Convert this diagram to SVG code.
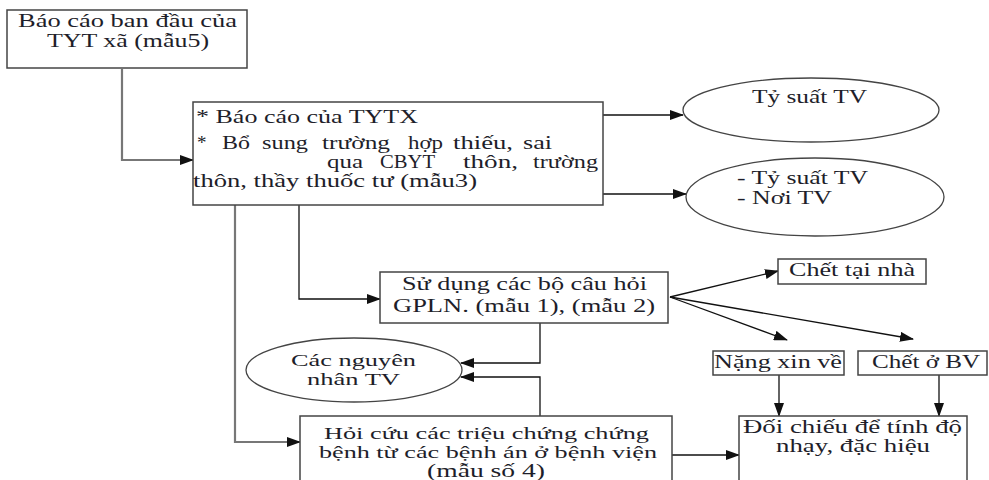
<svg xmlns="http://www.w3.org/2000/svg" width="989" height="480" viewBox="0 0 989 480">
<style>
.box{fill:#fff;stroke:#444;stroke-width:1.5}
.ell{fill:#fff;stroke:#444;stroke-width:1.3}
text{font-family:"Liberation Serif","Times New Roman",serif;font-size:19px;fill:#1e1e2a}
.t{font-size:17px}
.c{stroke:#111;stroke-width:1.3;fill:none}
.g{stroke:#777;stroke-width:2.2;fill:none}
</style>
<defs>
<marker id="a" markerUnits="userSpaceOnUse" markerWidth="14" markerHeight="10" refX="13" refY="5" orient="auto">
<path d="M0,0 L14,5 L0,10 Z" fill="#111"/>
</marker>
</defs>
<g id="connectors">
<path class="g" d="M122,69 V160 H180"/>
<path class="c" d="M182,160 H193" marker-end="url(#a)"/>
<path class="c" d="M603,115 H683" marker-end="url(#a)"/>
<path class="c" d="M603,194 H686" marker-end="url(#a)"/>
<path class="c" d="M299,205 V299 H380" marker-end="url(#a)"/>
<path class="g" d="M235,205 V442 H290"/>
<path class="c" d="M288,442 H300" marker-end="url(#a)"/>
<path class="c" d="M540,323 V363 H461" marker-end="url(#a)"/>
<path class="c" d="M540,416 V377 H461" marker-end="url(#a)"/>
<path class="c" d="M670,297 L778,271" marker-end="url(#a)"/>
<path class="c" d="M670,297 L787,340" marker-end="url(#a)"/>
<path class="c" d="M670,297 L913,339" marker-end="url(#a)"/>
<path class="c" d="M779,375 V416" marker-end="url(#a)"/>
<path class="c" d="M939,375 V416" marker-end="url(#a)"/>
<path class="c" d="M672,455 H739" marker-end="url(#a)"/>
</g>
<g id="n1">
<rect class="box" x="7" y="10" width="240" height="58"/>
<text x="18" y="27" textLength="219" lengthAdjust="spacingAndGlyphs">Báo cáo ban đầu của</text>
<text x="47" y="47" textLength="162" lengthAdjust="spacingAndGlyphs">TYT xã (mẫu5)</text>
</g>
<g id="n2">
<rect class="box" x="193" y="102" width="410" height="103"/>
<text x="196" y="123" textLength="222" lengthAdjust="spacingAndGlyphs">* Báo cáo của TYTX</text>
<text x="197" y="149">*</text>
<text x="222" y="149" textLength="28" lengthAdjust="spacingAndGlyphs">Bổ</text>
<text x="262" y="149" textLength="46" lengthAdjust="spacingAndGlyphs">sung</text>
<text x="322" y="149" textLength="68" lengthAdjust="spacingAndGlyphs">trường</text>
<text x="408" y="149" textLength="35" lengthAdjust="spacingAndGlyphs">hợp</text>
<text x="453" y="149" textLength="60" lengthAdjust="spacingAndGlyphs">thiếu,</text>
<text x="523" y="149" textLength="29" lengthAdjust="spacingAndGlyphs">sai</text>
<text x="327" y="168" textLength="36" lengthAdjust="spacingAndGlyphs">qua</text>
<text x="380" y="168" textLength="55" lengthAdjust="spacingAndGlyphs">CBYT</text>
<text x="463" y="168" textLength="55" lengthAdjust="spacingAndGlyphs">thôn,</text>
<text x="533" y="168" textLength="65" lengthAdjust="spacingAndGlyphs">trường</text>
<text x="193" y="187" textLength="284" lengthAdjust="spacingAndGlyphs">thôn, thầy thuốc tư (mẫu3)</text>
</g>
<g id="n3">
<ellipse class="ell" cx="811" cy="110" rx="128" ry="32"/>
<text x="752" y="103" textLength="115" lengthAdjust="spacingAndGlyphs">Tỷ suất TV</text>
</g>
<g id="n4">
<ellipse class="ell" cx="815" cy="197" rx="129" ry="39"/>
<text x="737" y="184" textLength="131" lengthAdjust="spacingAndGlyphs">- Tỷ suất TV</text>
<text x="737" y="204" textLength="95" lengthAdjust="spacingAndGlyphs">- Nơi TV</text>
</g>
<g id="n5">
<rect class="box" x="380" y="272" width="288" height="51"/>
<text x="402" y="290" textLength="245" lengthAdjust="spacingAndGlyphs">Sử dụng các bộ câu hỏi</text>
<text x="393" y="312" textLength="262" lengthAdjust="spacingAndGlyphs">GPLN. (mẫu 1), (mẫu 2)</text>
</g>
<g id="n6">
<rect class="box" x="778" y="259" width="148" height="25"/>
<text x="789" y="276" textLength="126" lengthAdjust="spacingAndGlyphs">Chết tại nhà</text>
</g>
<g id="n7">
<rect class="box" x="713" y="351" width="131" height="24"/>
<text x="714" y="368" textLength="128" lengthAdjust="spacingAndGlyphs">Nặng xin về</text>
</g>
<g id="n8">
<rect class="box" x="858" y="351" width="129" height="24"/>
<text x="872" y="368" textLength="108" lengthAdjust="spacingAndGlyphs">Chết ở BV</text>
</g>
<g id="n9">
<ellipse class="ell" cx="354" cy="370" rx="108" ry="32"/>
<text class="t" x="291" y="366" textLength="125" lengthAdjust="spacingAndGlyphs">Các nguyên</text>
<text class="t" x="307" y="385" textLength="93" lengthAdjust="spacingAndGlyphs">nhân TV</text>
</g>
<g id="n10">
<rect class="box" x="300" y="416" width="372" height="80"/>
<text class="t" x="324" y="439" textLength="325" lengthAdjust="spacingAndGlyphs">Hỏi cứu các triệu chứng chứng</text>
<text class="t" x="319" y="458" textLength="338" lengthAdjust="spacingAndGlyphs">bệnh từ các bệnh án ở bệnh viện</text>
<text x="427" y="477" textLength="118" lengthAdjust="spacingAndGlyphs">(mẫu  số 4)</text>
</g>
<g id="n11">
<rect class="box" x="739" y="416" width="228" height="80"/>
<text x="743" y="433" textLength="219" lengthAdjust="spacingAndGlyphs">Đối chiếu để tính độ</text>
<text x="776" y="452" textLength="154" lengthAdjust="spacingAndGlyphs">nhạy, đặc hiệu</text>
</g>
</svg>
